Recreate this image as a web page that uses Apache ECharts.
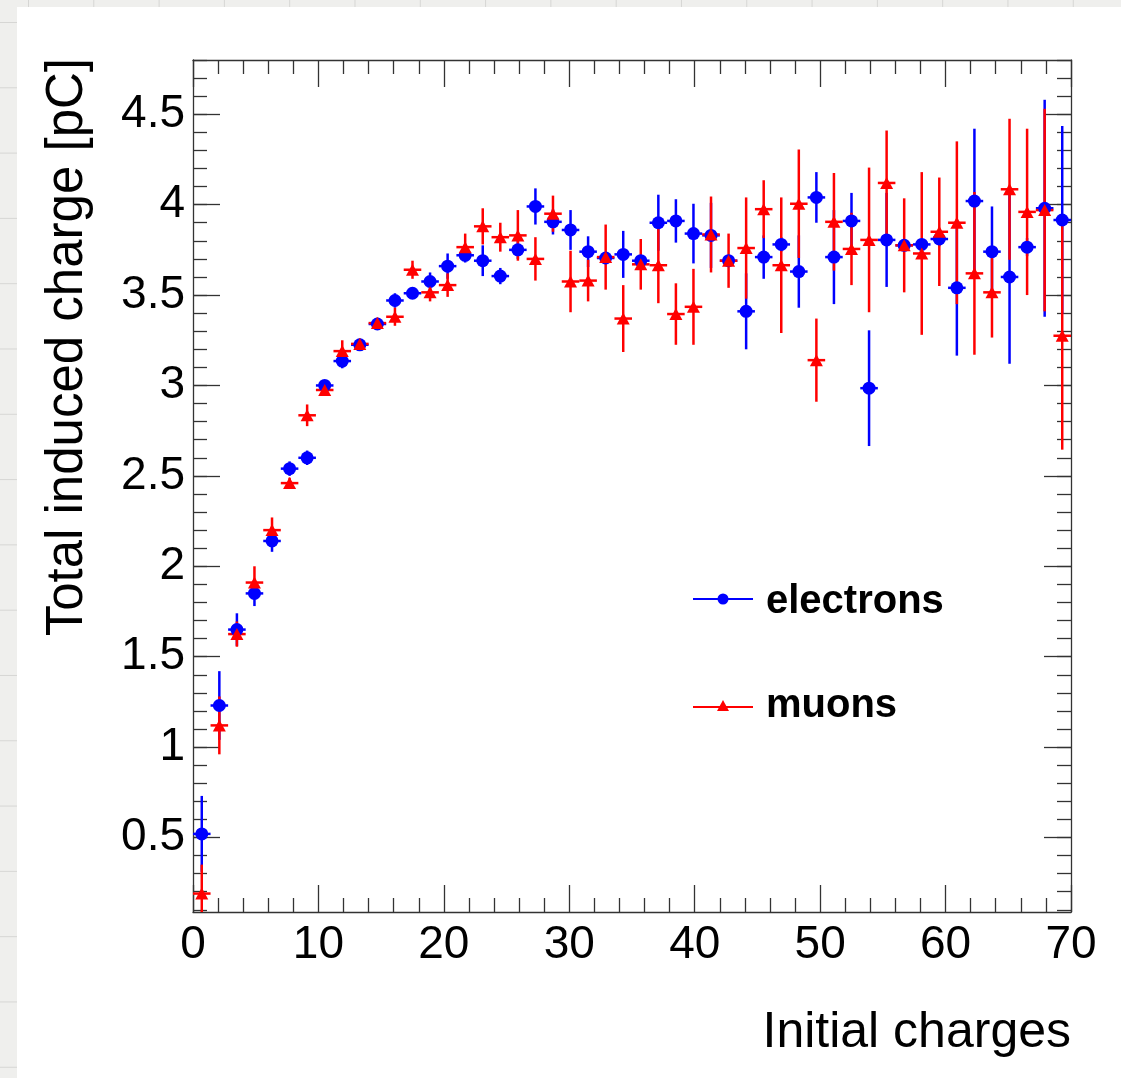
<!DOCTYPE html>
<html>
<head>
<meta charset="utf-8">
<script src="https://cdn.jsdelivr.net/npm/echarts@6/dist/echarts.min.js"></script>
<style>
    html, body {
        margin: 0;
        padding: 0;
        background-color: #efefed;
        background-image: linear-gradient(to right, #d6d6d4 1px, transparent 1px),
                          linear-gradient(to bottom, #d6d6d4 1px, transparent 1px);
        background-size: 65.3px 65.3px;
        background-position: 28px 22px;
    }
    #main { width: 1121px; height: 1078px; }
</style>
</head>
<body>
<div id="main"></div>
<script>
//bin centres on the x axis (initial charges)
var binCenters = [0.7, 2.1, 3.5, 4.9, 6.3, 7.7, 9.1, 10.5, 11.9, 13.3,
    14.7, 16.1, 17.5, 18.9, 20.3, 21.7, 23.1, 24.5, 25.9, 27.3,
    28.7, 30.1, 31.5, 32.9, 34.3, 35.7, 37.1, 38.5, 39.9, 41.3,
    42.7, 44.1, 45.5, 46.9, 48.3, 49.7, 51.1, 52.5, 53.9, 55.3,
    56.7, 58.1, 59.5, 60.9, 62.3, 63.7, 65.1, 66.5, 67.9, 69.3];
var binHalfWidth = 0.7;
//electrons
var electronCharge = [0.52, 1.23, 1.65, 1.85, 2.14, 2.54, 2.60, 3.00, 3.135, 3.225,
    3.34, 3.47, 3.51, 3.575, 3.66, 3.72, 3.69, 3.605, 3.75, 3.99,
    3.905, 3.86, 3.74, 3.705, 3.725, 3.69, 3.90, 3.91, 3.84, 3.83,
    3.69, 3.41, 3.71, 3.78, 3.63, 4.04, 3.71, 3.91, 2.985, 3.805,
    3.775, 3.78, 3.81, 3.54, 4.02, 3.74, 3.60, 3.765, 3.98, 3.915];
var electronError = [0.21, 0.19, 0.09, 0.07, 0.06, 0.04, 0.04, 0.03, 0.04, 0.03,
    0.03, 0.04, 0.03, 0.05, 0.07, 0.04, 0.085, 0.045, 0.05, 0.10,
    0.07, 0.11, 0.085, 0.03, 0.13, 0.03, 0.155, 0.12, 0.165, 0.18,
    0.03, 0.21, 0.12, 0.04, 0.20, 0.14, 0.26, 0.155, 0.32, 0.26,
    0.03, 0.03, 0.04, 0.375, 0.40, 0.25, 0.48, 0.05, 0.60, 0.52];
//muons
var muonCharge = [0.19, 1.12, 1.625, 1.91, 2.20, 2.46, 2.835, 2.975, 3.19, 3.23,
    3.345, 3.38, 3.64, 3.515, 3.555, 3.765, 3.88, 3.82, 3.83, 3.70,
    3.95, 3.575, 3.58, 3.71, 3.37, 3.67, 3.665, 3.395, 3.435, 3.835,
    3.69, 3.76, 3.975, 3.665, 4.005, 3.14, 3.905, 3.755, 3.805, 4.12,
    3.775, 3.73, 3.85, 3.90, 3.62, 3.515, 4.085, 3.96, 3.97, 3.275];
var muonError = [0.16, 0.16, 0.07, 0.09, 0.07, 0.03, 0.06, 0.03, 0.06, 0.03,
    0.03, 0.05, 0.05, 0.05, 0.065, 0.075, 0.10, 0.08, 0.14, 0.12,
    0.10, 0.17, 0.115, 0.18, 0.185, 0.14, 0.21, 0.17, 0.21, 0.21,
    0.15, 0.28, 0.16, 0.375, 0.30, 0.23, 0.27, 0.20, 0.40, 0.29,
    0.26, 0.45, 0.30, 0.45, 0.45, 0.25, 0.39, 0.46, 0.56, 0.63];
//axis ranges and ticks
var xMin = 0, xMax = 70;
var yMin = 0.088, yMax = 4.8;
var yMajorTicks = [0.5, 1, 1.5, 2, 2.5, 3, 3.5, 4, 4.5];
var yMinorTicks = [];
for (var t = 1; t <= 48; t++) {
    yMinorTicks.push(t / 10);
}

var FONT = 'Liberation Sans, Arial, Helvetica, sans-serif';

//拼装 [x, y, err]
function buildPoints(values, errors) {
    var pts = [];
    for (var i = 0; i < binCenters.length; i++) {
        pts.push([binCenters[i], values[i], errors[i]]);
    }
    return pts;
}

//error bars drawn through the axis scales
function errorBarRenderer(color) {
    return function (params, api) {
        var x = api.value(0), y = api.value(1), err = api.value(2);
        var top = api.coord([x, y + err]);
        var bottom = api.coord([x, y - err]);
        var left = api.coord([x - binHalfWidth, y]);
        var right = api.coord([x + binHalfWidth, y]);
        var style = {stroke: color, lineWidth: 2.5};
        return {
            type: 'group',
            children: [
                {type: 'line', shape: {x1: top[0], y1: top[1], x2: bottom[0], y2: bottom[1]}, style: style},
                {type: 'line', shape: {x1: left[0], y1: left[1], x2: right[0], y2: right[1]}, style: style}
            ]
        };
    };
}

function valueAxisY(position, ticks, len, showLabel, showLine) {
    return {
        type: 'value',
        position: position,
        min: yMin,
        max: yMax,
        splitLine: {show: false},
        axisLine: {show: showLine, lineStyle: {color: '#333', width: 1.3}},
        axisTick: {show: true, inside: true, length: len, customValues: ticks,
            lineStyle: {color: '#333', width: 1.3}},
        axisLabel: {show: showLabel, customValues: yMajorTicks, margin: 8,
            fontSize: 46, color: '#000', fontFamily: FONT}
    };
}

function valueAxisX(position, showLabel) {
    return {
        type: 'value',
        position: position,
        min: xMin,
        max: xMax,
        interval: 10,
        splitLine: {show: false},
        axisLine: {show: true, onZero: false, lineStyle: {color: '#333', width: 1.3}},
        axisTick: {show: true, inside: true, length: 27, lineStyle: {color: '#333', width: 1.3}},
        minorTick: {show: true, splitNumber: 5, length: 14, lineStyle: {color: '#333', width: 1.3}},
        axisLabel: {show: showLabel, margin: 10, fontSize: 46, color: '#000', fontFamily: FONT}
    };
}

var chart = echarts.init(document.getElementById('main'));
var option = {
    animation: false,
    grid: {left: 193, right: 50, top: 60, bottom: 166, containLabel: false},
    xAxis: [valueAxisX('bottom', true), valueAxisX('top', false)],
    yAxis: [
        valueAxisY('left', yMajorTicks, 27, true, true),
        valueAxisY('left', yMinorTicks, 14, false, false),
        valueAxisY('right', yMajorTicks, 27, false, true),
        valueAxisY('right', yMinorTicks, 14, false, false)
    ],
    graphic: [
        {type: 'rect', z: -100, silent: true, shape: {x: 17, y: 7, width: 1104, height: 1071},
            style: {fill: '#fff'}},
        //axis titles
        {type: 'text', x: 1071, y: 1033,
            style: {text: 'Initial charges', fontSize: 50, fontFamily: FONT, fill: '#000',
                align: 'right', verticalAlign: 'middle'}},
        {type: 'text', x: 68, y: 58, rotation: Math.PI / 2,
            style: {text: 'Total induced charge [pC]', fontSize: 51, fontFamily: FONT, fill: '#000',
                align: 'right', verticalAlign: 'middle'}},
        //legend
        {type: 'line', shape: {x1: 693, y1: 599, x2: 753, y2: 599}, style: {stroke: '#0000ff', lineWidth: 2}},
        {type: 'circle', shape: {cx: 723, cy: 599, r: 5.5}, style: {fill: '#0000ff'}},
        {type: 'text', x: 766, y: 602,
            style: {text: 'electrons', fontSize: 40, fontWeight: 'bold', fontFamily: FONT, fill: '#000',
                align: 'left', verticalAlign: 'middle'}},
        {type: 'line', shape: {x1: 693, y1: 707, x2: 753, y2: 707}, style: {stroke: '#ff0000', lineWidth: 2}},
        {type: 'polygon', shape: {points: [[723, 700], [717, 711], [729, 711]]}, style: {fill: '#ff0000'}},
        {type: 'text', x: 766, y: 706,
            style: {text: 'muons', fontSize: 40, fontWeight: 'bold', fontFamily: FONT, fill: '#000',
                align: 'left', verticalAlign: 'middle'}}
    ],
    series: [
        {
            name: 'electrons errors',
            type: 'custom',
            clip: true,
            renderItem: errorBarRenderer('#0000ff'),
            encode: {x: 0, y: 1},
            data: buildPoints(electronCharge, electronError),
            z: 2
        },
        {
            name: 'muons errors',
            type: 'custom',
            clip: true,
            renderItem: errorBarRenderer('#ff0000'),
            encode: {x: 0, y: 1},
            data: buildPoints(muonCharge, muonError),
            z: 3
        },
        {
            name: 'electrons',
            type: 'scatter',
            symbol: 'circle',
            symbolSize: 13,
            itemStyle: {color: '#0000ff', opacity: 1},
            data: buildPoints(electronCharge, electronError),
            encode: {x: 0, y: 1},
            z: 4
        },
        {
            name: 'muons',
            type: 'scatter',
            symbol: 'triangle',
            symbolSize: [13, 12],
            itemStyle: {color: '#ff0000', opacity: 1},
            data: buildPoints(muonCharge, muonError),
            encode: {x: 0, y: 1},
            z: 5
        }
    ]
};
chart.setOption(option);
</script>
</body>
</html>
